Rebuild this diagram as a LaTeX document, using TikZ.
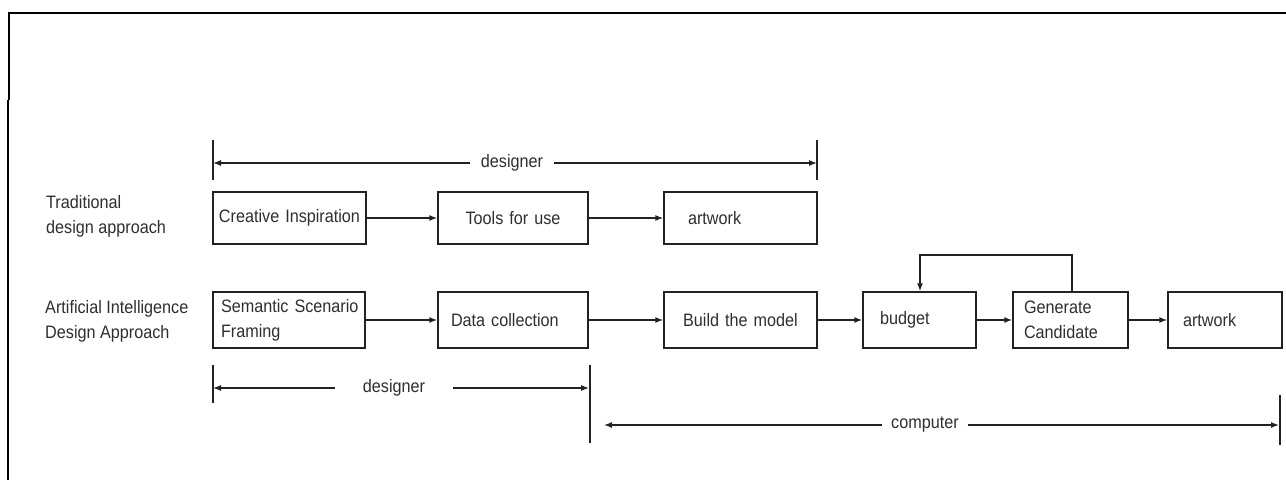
\documentclass[tikz,border=0pt]{standalone}
\usepackage{fontspec}
\setmainfont{Liberation Sans}[FakeStretch=0.9]
\usetikzlibrary{arrows.meta}
\hyphenpenalty=10000
\exhyphenpenalty=10000
\definecolor{ink}{HTML}{222222}
\definecolor{txt}{HTML}{2E2E2E}
\tikzset{
  stepbox/.style={draw=ink, line width=1.4pt, inner sep=0pt, text=txt,
    font=\fontsize{18}{25}\selectfont, align=left},
  flow/.style={draw=ink, line width=1.4pt, -{Latex[length=8pt,width=6pt]}},
  span/.style={draw=ink, line width=1.2pt, -{Latex[length=8pt,width=6pt]}},
  tickline/.style={draw=ink, line width=1.4pt},
  spanlabel/.style={text=txt, inner sep=0pt, font=\fontsize{18}{22}\selectfont},
  rowlabel/.style={text=txt, inner sep=0pt, anchor=west, align=left,
    font=\fontsize{18}{25}\selectfont},
}
\begin{document}
\begin{tikzpicture}[x=1pt, y=-1pt]
\useasboundingbox (0,0) rectangle (1286,480);

% page frame
\draw[line width=2.5pt] (9,100) -- (9,13) -- (1286,13);
\draw[line width=1.5pt] (8,100) -- (8,480);

% row labels
\node[rowlabel] (trad) at (46,216) {Traditional\\design approach};
\node[rowlabel] (ai) at (45,321) {Artificial Intelligence\\Design Approach};

% traditional row
\node[stepbox, minimum width=153pt, minimum height=52pt, text width=145pt, align=center] (ci) at (289.5,218) {Creative Inspiration};
\node[stepbox, minimum width=150pt, minimum height=52pt, text width=130pt, align=center] (tu) at (513,218) {Tools for use};
\node[stepbox, minimum width=153pt, minimum height=52pt, text width=105pt] (aw1) at (740.5,218) {artwork};

\draw[flow] (ci) -- (tu);
\draw[flow] (tu) -- (aw1);

% AI row
\node[stepbox, minimum width=152pt, minimum height=56pt, text width=136pt] (ssf) at (289,320) {Semantic~Scenario\\Framing};
\node[stepbox, minimum width=150pt, minimum height=56pt, text width=124pt] (dc) at (513,320) {Data collection};
\node[stepbox, minimum width=153pt, minimum height=56pt, text width=140pt, align=center] (btm) at (740.5,320) {Build the model};
\node[stepbox, minimum width=113pt, minimum height=56pt, text width=79pt] (bud) at (919.5,320) {budget};
\node[stepbox, minimum width=115pt, minimum height=56pt, text width=93pt] (gc) at (1070.5,320) {Generate\\Candidate};
\node[stepbox, minimum width=114pt, minimum height=56pt, text width=84pt] (aw2) at (1225,320) {artwork};

\draw[flow] (ssf) -- (dc);
\draw[flow] (dc) -- (btm);
\draw[flow] (btm) -- (bud);
\draw[flow] (bud) -- (gc);
\draw[flow] (gc) -- (aw2);

% feedback loop
\coordinate (fbA) at (1072,255);
\coordinate (fbB) at (920,255);
\draw[flow] (gc.north -| fbA) -- (fbA) -- (fbB) -- (fbB |- bud.north);

% designer span, traditional approach
\draw[tickline] (213,140) -- (213,180);
\draw[tickline] (817,140) -- (817,180);
\coordinate (td1) at (213,163);
\coordinate (td2) at (817,163);
\node[spanlabel, minimum width=84pt] (tdes) at (512,163) {designer};
\draw[span] (tdes.west) -- (td1);
\draw[span] (tdes.east) -- (td2);

% designer span, AI approach
\draw[tickline] (213,365) -- (213,403);
\draw[tickline] (590,365) -- (590,443);
\coordinate (ad1) at (213,388);
\coordinate (ad2) at (589,388);
\node[spanlabel, minimum width=118pt] (ades) at (394,388) {designer};
\draw[span] (ades.west) -- (ad1);
\draw[span] (ades.east) -- (ad2);

% computer span
\draw[tickline] (1280,395) -- (1280,445);
\coordinate (cp1) at (604,425);
\coordinate (cp2) at (1279,425);
\node[spanlabel, minimum width=85pt] (comp) at (925,425) {computer};
\draw[span] (comp.west) -- (cp1);
\draw[span] (comp.east) -- (cp2);
\end{tikzpicture}
\end{document}
